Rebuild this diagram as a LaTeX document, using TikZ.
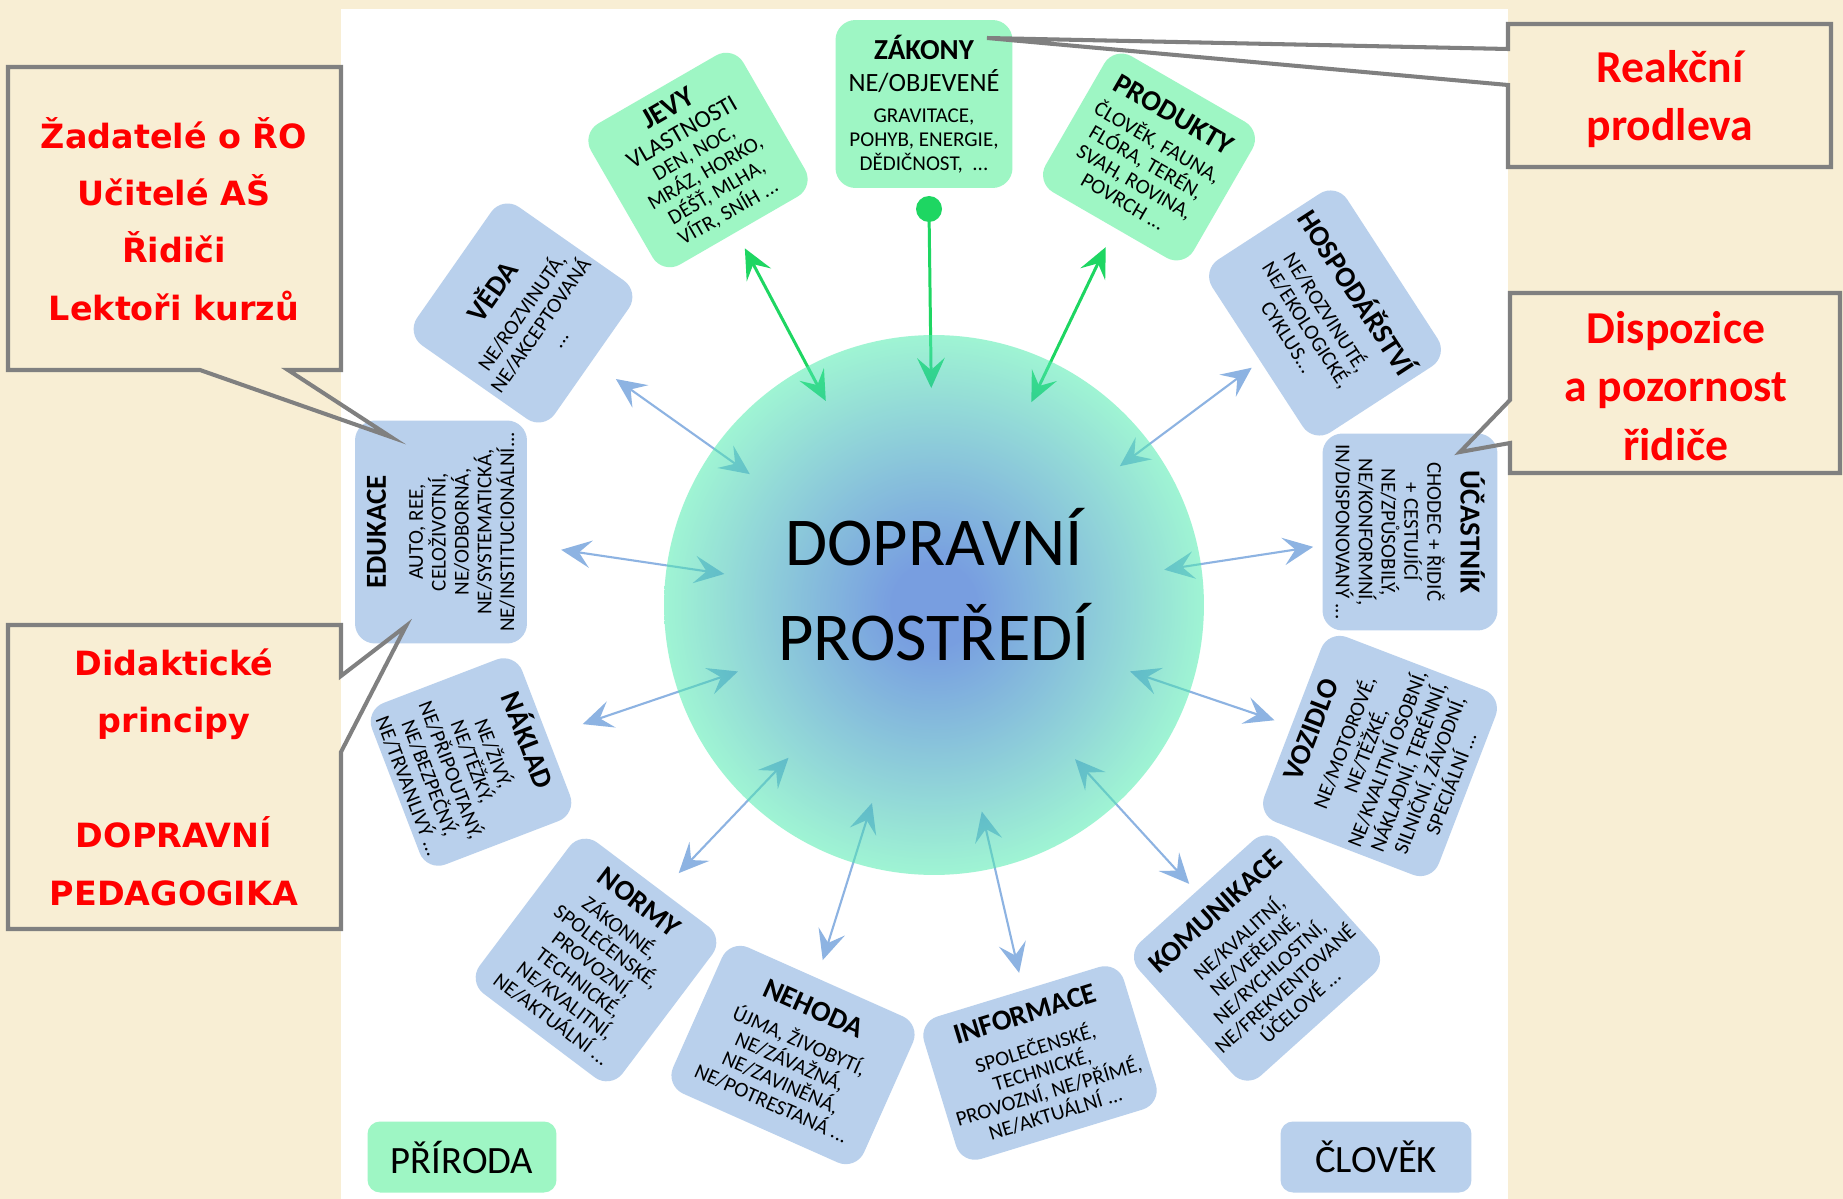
\documentclass[tikz,border=0pt]{standalone}
\usepackage{fontspec}
\setmainfont{Carlito}
\newfontfamily\widefont{DejaVu Sans}
\usetikzlibrary{arrows.meta}

\definecolor{paper}{RGB}{248,238,212}
\definecolor{boxgreen}{RGB}{158,246,196}
\definecolor{boxblue}{RGB}{185,208,236}
\definecolor{arrblue}{RGB}{141,179,226}
\definecolor{arrgreen}{RGB}{30,214,98}
\definecolor{circgreen}{RGB}{85,244,175}
\definecolor{circblue}{RGB}{10,80,200}
\pgfdeclareradialshading{envshade}{\pgfpoint{0bp}{0bp}}{color(0bp)=(circblue); color(4bp)=(circblue); color(26bp)=(circgreen); color(50bp)=(circgreen)}
\definecolor{calloutgray}{RGB}{128,128,128}

\newcommand{\ttl}{\fontsize{16.5}{18}\selectfont\bfseries}

\tikzset{
  topic/.style={rounded corners=0.4cm, align=center, inner sep=3pt,
    font=\fontsize{12}{13}\selectfont},
  naturebox/.style={topic, fill=boxgreen},
  humanbox/.style={topic, fill=boxblue},
  bluelink/.style={draw=arrblue, line width=1.2pt, <->},
  greenlink/.style={draw=arrgreen, line width=1.7pt},
  callout/.style={draw=calloutgray, line width=2.3pt, line join=miter},
  redwide/.style={text=red, align=center,
    font=\widefont\bfseries\fontsize{19}{32.7}\selectfont},
  rednarrow/.style={text=red, align=center,
    font=\bfseries\fontsize{26}{33.5}\selectfont}
}

\begin{document}
\begin{tikzpicture}[x=0.02cm, y=-0.02cm,
    >={Stealth[length=6mm,width=5.5mm,inset=2.4mm]}]
  \useasboundingbox (0,0) rectangle (1843,1199);
  \fill[paper] (0,0) rectangle (1843,1199);
  \fill[white] (341,9) rectangle (1508,1199);

  % centre (placed first, painted later over the links)
  \coordinate (circ) at (934,605);

  % nature (green)
  \node[naturebox, font=\fontsize{12}{13.6}\selectfont, minimum width=3.54cm, minimum height=3.36cm] (zakony) at (924,104)
    {{\ttl ZÁKONY}\\[5pt]{\fontsize{15}{17}\selectfont NE/OBJEVENÉ}\\[4pt]GRAVITACE,\\POHYB, ENERGIE,\\DĚDIČNOST,\ \ ...};
  \node[naturebox, rotate=30, minimum width=3.52cm, minimum height=3.26cm] (jevy) at (698,160)
    {{\ttl JEVY}\\[2pt]{\fontsize{14}{16}\selectfont VLASTNOSTI}\\DEN, NOC,\\MRÁZ, HORKO,\\DÉŠŤ, MLHA,\\VÍTR, SNÍH ...};
  \node[naturebox, rotate=-30, minimum width=3.42cm, minimum height=3.14cm] (produkty) at (1149,157)
    {{\ttl PRODUKTY}\\[4pt]ČLOVĚK, FAUNA,\\FLÓRA, TERÉN,\\SVAH, ROVINA,\\POVRCH ...};
  \node[circle, fill=arrgreen, minimum size=0.52cm, inner sep=0pt] (pin) at (929,209) {};

  % human (blue)
  \node[humanbox, rotate=55, minimum width=3.36cm, minimum height=3.36cm] (veda) at (523,313)
    {{\ttl VĚDA}\\[6pt]NE/ROZVINUTÁ,\\NE/AKCEPTOVANÁ\\...};
  \node[humanbox, rotate=-57, minimum width=4.12cm, minimum height=3.22cm] (hospodarstvi) at (1325,313)
    {{\ttl HOSPODÁŘSTVÍ}\\[6pt]NE/ROZVINUTÉ,\\NE/EKOLOGICKÉ,\\CYKLUS...};
  \node[humanbox, rotate=90, minimum width=4.46cm, minimum height=3.44cm] (edukace) at (441,532)
    {{\ttl EDUKACE}\\[8pt]AUTO, REE,\\CELOŽIVOTNÍ,\\NE/ODBORNÁ,\\NE/SYSTEMATICKÁ,\\NE/INSTITUCIONÁLNÍ...};
  \node[humanbox, rotate=-90, minimum width=3.94cm, minimum height=3.5cm] (ucastnik) at (1410,532)
    {{\ttl ÚČASTNÍK}\\[6pt]CHODEC + ŘIDIČ\\+ CESTUJÍCÍ\\NE/ZPŮSOBILÝ,\\NE/KONFORMNÍ,\\IN/DISPONOVANÝ ...};
  \node[humanbox, rotate=-69, minimum width=3.46cm, minimum height=3.22cm] (naklad) at (471,762)
    {{\ttl NÁKLAD}\\[6pt]NE/ŽIVÝ,\\NE/TĚŽKÝ,\\NE/PŘIPOUTANÝ,\\NE/BEZPEČNÝ,\\NE/TRVANLIVÝ ...};
  \node[humanbox, rotate=69, minimum width=3.68cm, minimum height=3.74cm] (vozidlo) at (1380,756)
    {{\ttl VOZIDLO}\\[6pt]NE/MOTOROVÉ,\\NE/TĚŽKÉ,\\NE/KVALITNÍ OSOBNÍ,\\NÁKLADNÍ, TERÉNNÍ,\\SILNIČNÍ, ZÁVODNÍ,\\SPECIÁLNÍ ...};
  \node[humanbox, rotate=-37, minimum width=3.58cm, minimum height=3.78cm] (normy) at (596,960)
    {{\ttl NORMY}\\[4pt]ZÁKONNÉ,\\SPOLEČENSKÉ,\\PROVOZNÍ,\\TECHNICKÉ,\\NE/KVALITNÍ,\\NE/AKTUÁLNÍ ...};
  \node[humanbox, rotate=-24, minimum width=4.18cm, minimum height=3.2cm] (nehoda) at (793,1055)
    {{\ttl NEHODA}\\[6pt]ÚJMA, ŽIVOBYTÍ,\\NE/ZÁVAŽNÁ,\\NE/ZAVINĚNÁ,\\NE/POTRESTANÁ ...};
  \node[humanbox, rotate=17, minimum width=4.18cm, minimum height=2.98cm] (informace) at (1040,1063)
    {{\ttl INFORMACE}\\[6pt]SPOLEČENSKÉ,\\TECHNICKÉ,\\PROVOZNÍ, NE/PŘÍMÉ,\\NE/AKTUÁLNÍ ...};
  \node[humanbox, rotate=42, minimum width=3.6cm, minimum height=3.6cm] (komunikace) at (1257,958)
    {{\ttl KOMUNIKACE}\\[6pt]NE/KVALITNÍ,\\NE/VEŘEJNÉ,\\NE/RYCHLOSTNÍ,\\NE/FREKVENTOVANÉ\\ÚČELOVÉ ...};

  \node[naturebox, rounded corners=0.25cm, minimum width=3.78cm, minimum height=1.42cm,
    font=\fontsize{22}{24}\selectfont] (priroda) at (462,1157) {PŘÍRODA};
  \node[humanbox, rounded corners=0.25cm, minimum width=3.82cm, minimum height=1.42cm,
    font=\fontsize{22}{24}\selectfont] (clovek) at (1376,1157) {ČLOVĚK};

  % links
  \draw[greenlink, <->, shorten <=2.0cm, shorten >=4.62cm] (jevy.center) -- (circ);
  \draw[greenlink, <->, shorten <=2.0cm, shorten >=4.5cm] (produkty.center) -- (circ);
  \draw[greenlink, ->, shorten >=4.34cm] (pin.center) -- (circ);
  \draw[bluelink, shorten <=2.28cm, shorten >=4.52cm] (veda.center) -- (circ);
  \draw[bluelink, shorten <=1.83cm, shorten >=4.64cm] (hospodarstvi.center) -- (circ);
  \draw[bluelink, shorten <=2.43cm, shorten >=4.24cm] (edukace.center) -- (circ);
  \draw[bluelink, shorten <=1.96cm, shorten >=4.66cm] (ucastnik.center) -- (circ);
  \draw[bluelink, shorten <=2.36cm, shorten >=4.14cm] (naklad.center) -- (circ);
  \draw[bluelink, shorten <=2.23cm, shorten >=4.14cm] (vozidlo.center) -- (circ);
  \draw[bluelink, shorten <=2.4cm, shorten >=4.22cm] (normy.center) -- (circ);
  \draw[bluelink, shorten <=2.01cm, shorten >=4.18cm] (komunikace.center) -- (circ);
  \draw[bluelink, shorten <=1.99cm, shorten >=4.15cm] (nehoda.center) -- (circ);
  \draw[bluelink, shorten <=1.85cm, shorten >=4.24cm] (informace.center) -- (circ);

  % translucent centre over the link ends
  \node[circle, minimum size=10.8cm, shading=envshade, fill opacity=0.55] (env) at (circ) {};
  \node[font=\fontsize{39}{54}\selectfont, align=center] (centre) at (934,585) {DOPRAVNÍ\\PROSTŘEDÍ};

  % callouts
  \draw[callout] (8,67) -- (341,67) -- (341,370) -- (288,370) -- (391,437) -- (200,370) -- (8,370) -- cycle;
  \node[redwide] (zadatele) at (174,219) {Žadatelé o ŘO\\Učitelé AŠ\\Řidiči\\Lektoři kurzů};
  \draw[callout] (8,625) -- (341,625) -- (341,676) -- (406,626) -- (341,752) -- (341,929) -- (8,929) -- cycle;
  \node[redwide] (didaktika) at (174,777) {Didaktické\\principy\\[32.7pt]DOPRAVNÍ\\PEDAGOGIKA};
  \draw[callout] (1508,24) -- (1831,24) -- (1831,167) -- (1508,167) -- (1508,85) -- (987,38) -- (1508,49) -- cycle;
  \node[rednarrow] (reakce) at (1670,99) {Reakční\\prodleva};
  \draw[callout] (1510,293) -- (1840,293) -- (1840,473) -- (1510,473) -- (1510,443) -- (1460,452) -- (1510,400) -- cycle;
  \node[rednarrow] (dispozice) at (1676,386) {Dispozice\\a pozornost\\řidiče};
\end{tikzpicture}
\end{document}
